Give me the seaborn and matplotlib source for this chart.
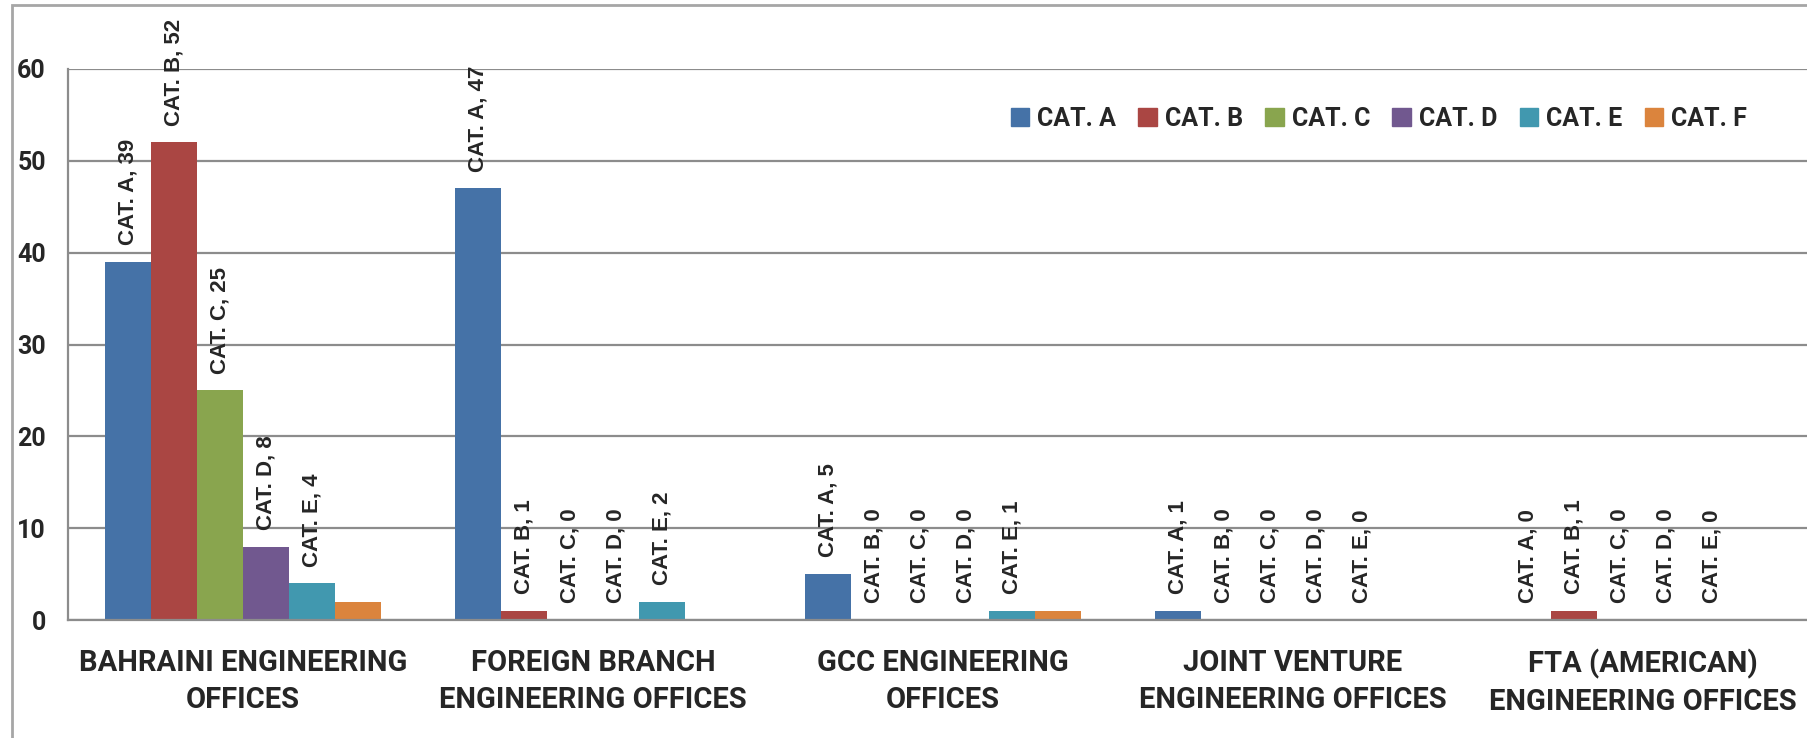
import matplotlib
matplotlib.use("Agg")
import matplotlib.pyplot as plt
import matplotlib.patches as mpatches
from matplotlib.font_manager import FontProperties
import pandas as pd
import seaborn as sns

offices = [
    "BAHRAINI ENGINEERING\nOFFICES",
    "FOREIGN BRANCH\nENGINEERING OFFICES",
    "GCC ENGINEERING\nOFFICES",
    "JOINT VENTURE\nENGINEERING OFFICES",
    "FTA (AMERICAN)\nENGINEERING OFFICES",
]
cats = ["CAT. A", "CAT. B", "CAT. C", "CAT. D", "CAT. E", "CAT. F"]
cat_a = [39, 47, 5, 1, 0]
cat_b = [52, 1, 0, 0, 1]
cat_c = [25, 0, 0, 0, 0]
cat_d = [8, 0, 0, 0, 0]
cat_e = [4, 2, 1, 0, 0]
cat_f = [2, 0, 1, 0, 0]
colors = ["#4572A7", "#AA4643", "#89A54E", "#71588F", "#4198AF", "#DB843D"]

rows = []
for cat, vals in zip(cats, [cat_a, cat_b, cat_c, cat_d, cat_e, cat_f]):
    for office, v in zip(offices, vals):
        rows.append({"office": office, "cat": cat, "count": v})
df = pd.DataFrame(rows)

sns.set_theme(style="white")
plt.rcParams["font.family"] = ["Roboto", "DejaVu Sans"]
plt.rcParams["font.weight"] = "bold"

W, H = 1807, 738
fig = plt.figure(figsize=(W / 100, H / 100), dpi=100)
ax = fig.add_axes([68 / W, 118 / H, 1750 / W, (620 - 69) / H])

sns.barplot(data=df, x="office", y="count", hue="cat", order=offices,
            hue_order=cats, palette=colors, width=0.79, linewidth=0,
            saturation=1, ax=ax)

grid_col = "#8C8C8C"
ax.set_ylim(0, 60)
ax.set_xlim(-0.5, 4.5)
ax.set_yticks(range(0, 61, 10))
ax.yaxis.grid(True, color=grid_col, linewidth=1.6)
ax.set_axisbelow(True)
for side in ["top", "right"]:
    ax.spines[side].set_visible(False)
for side in ["left", "bottom"]:
    ax.spines[side].set_color(grid_col)
    ax.spines[side].set_linewidth(1.6)

ax.tick_params(axis="y", length=6, width=1.6, color=grid_col, pad=10,
               labelsize=18)
ax.set_xticks(range(len(offices)))
ax.set_xticklabels(offices, fontsize=21, fontweight="bold", linespacing=1.4)
ax.tick_params(axis="x", length=0, pad=21)
ax.set_xticks([i - 0.5 for i in range(len(offices) + 1)], minor=True)
ax.tick_params(axis="x", which="minor", length=6, width=1.6, color=grid_col)
plt.setp(ax.get_yticklabels(), fontweight="bold")
ax.set_xlabel("")
ax.set_ylabel("")

# data labels for CAT. A - CAT. E only
label_font = FontProperties(family=["Liberation Sans", "DejaVu Sans"],
                            weight="bold", size=16)
for cat, cont in zip(cats[:5], ax.containers[:5]):
    labels = [f"{cat}, {int(b.get_height())}" for b in cont]
    ax.bar_label(cont, labels=labels, padding=12, rotation=90,
                 fontproperties=label_font, clip_on=False)

handles = [mpatches.Patch(color=c) for c in colors]
ax.legend(handles, cats, ncol=6, loc="center", frameon=False,
          bbox_to_anchor=(0.763, 1 - 119 / H), bbox_transform=fig.transFigure,
          handlelength=0.75, handleheight=0.75, handletextpad=0.3,
          columnspacing=0.9, prop={"size": 18, "weight": "bold"})

fig.add_artist(mpatches.Rectangle((12 / W, -0.1), 2, 1.1 - 5 / H,
                                  transform=fig.transFigure, fill=False,
                                  edgecolor="#A6A6A6", linewidth=2))

fig.savefig("out.png", dpi=100)
plt.close(fig)
